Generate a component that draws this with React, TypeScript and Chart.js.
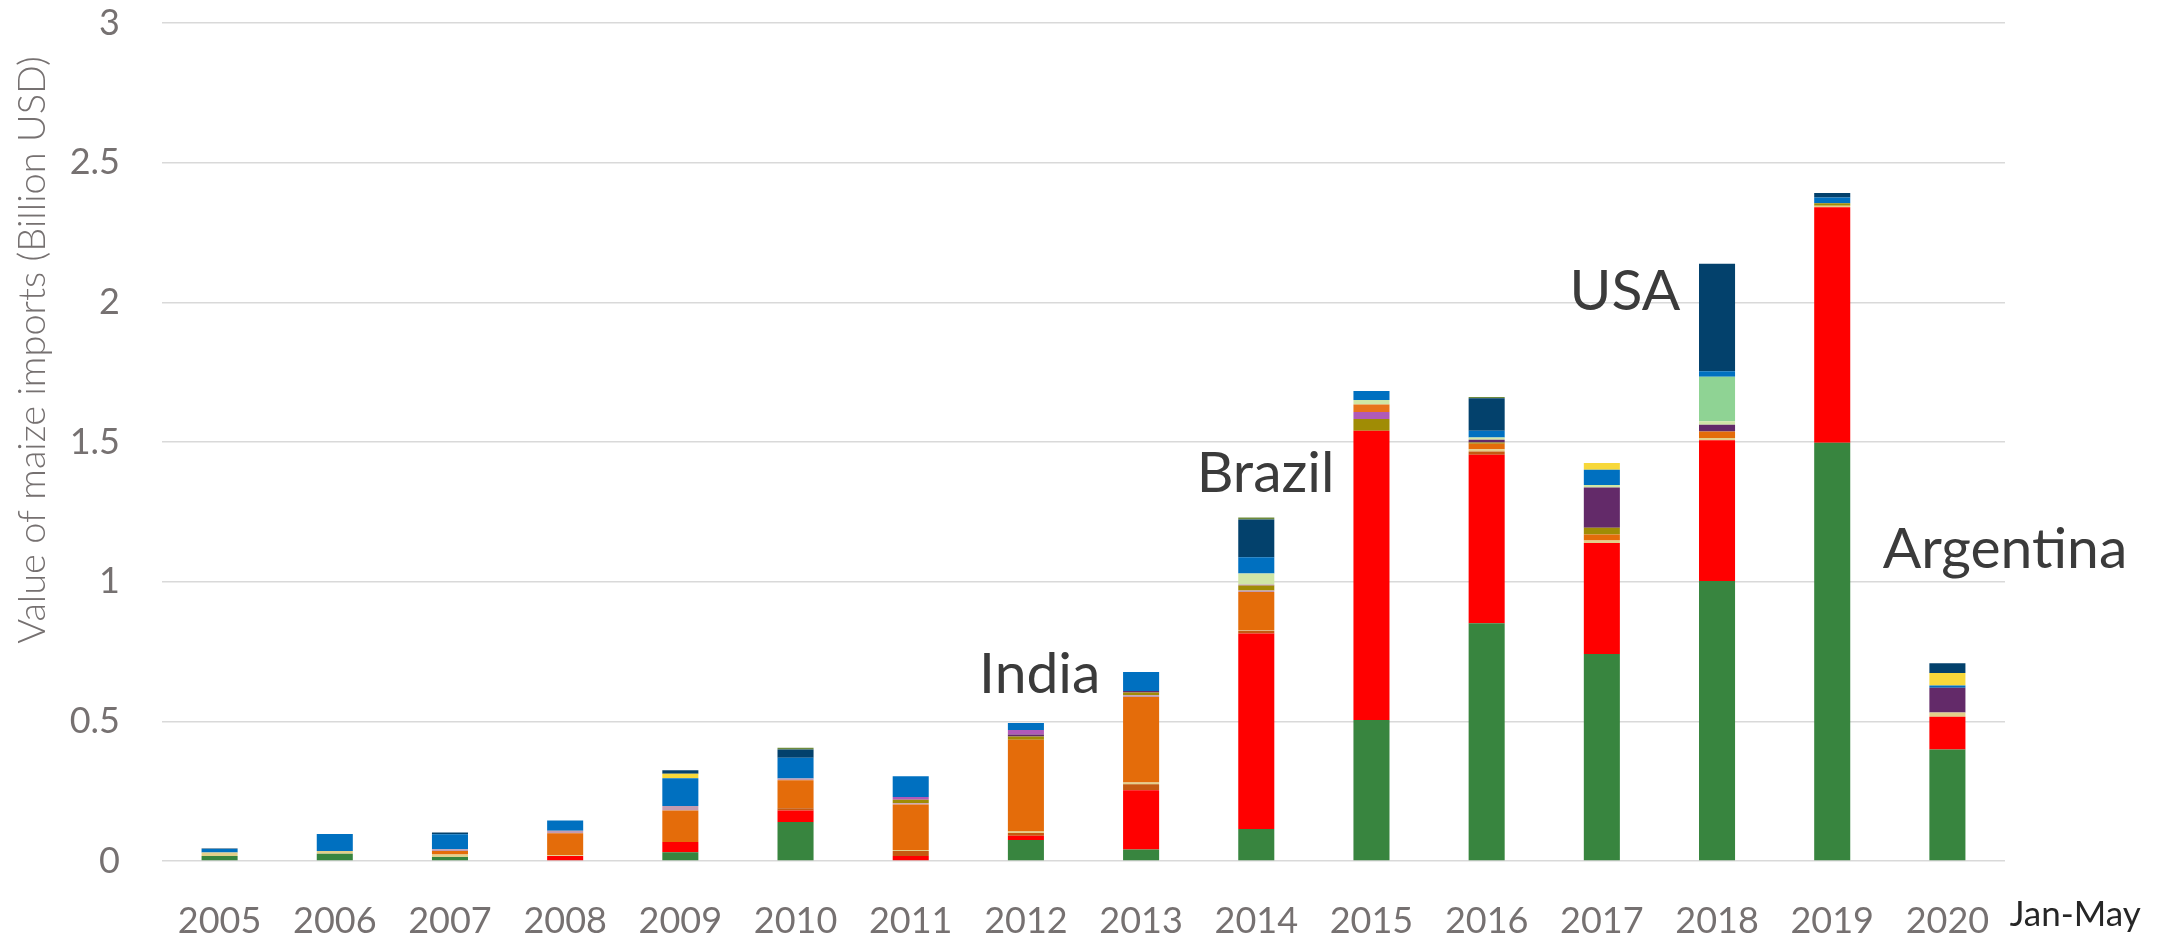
import React, { useEffect, useRef } from "react";
import { Chart, registerables } from "chart.js";

Chart.register(...registerables);

const years = ["2005", "2006", "2007", "2008", "2009", "2010", "2011", "2012", "2013", "2014", "2015", "2016", "2017", "2018", "2019", "2020"];

const argentina = [0.018, 0.026, 0.014, 0, 0.031, 0.14, 0, 0.075, 0.041, 0.115, 0.505, 0.851, 0.741, 1.002, 1.497, 0.399];
const brazil = [0, 0, 0, 0.018, 0.037, 0.041, 0.018, 0.015, 0.212, 0.699, 1.035, 0.603, 0.397, 0.504, 0.843, 0.117];
const otherBrown = [0, 0, 0, 0, 0, 0.008, 0.018, 0.01, 0.022, 0.01, 0, 0.012, 0, 0, 0, 0];
const otherTan = [0.012, 0.01, 0.009, 0.003, 0, 0, 0.003, 0.006, 0.006, 0.002, 0, 0.008, 0.009, 0.008, 0.006, 0.016];
const india = [0, 0, 0.013, 0.078, 0.113, 0.1, 0.163, 0.328, 0.306, 0.137, 0, 0.02, 0.022, 0.024, 0, 0];
const otherMauve = [0, 0, 0.006, 0.009, 0.016, 0.006, 0.005, 0, 0.006, 0.005, 0, 0, 0, 0, 0, 0];
const otherOlive = [0, 0, 0, 0, 0, 0, 0.012, 0.012, 0.01, 0.018, 0.042, 0.004, 0.024, 0, 0.009, 0];
const otherPurple = [0, 0, 0, 0, 0, 0, 0, 0.007, 0.006, 0, 0, 0.01, 0.144, 0.024, 0, 0.088];
const otherOrchid = [0, 0, 0, 0, 0, 0, 0.01, 0.016, 0, 0.003, 0.025, 0, 0, 0, 0, 0];
const otherOrange = [0, 0, 0, 0, 0, 0, 0, 0, 0, 0, 0.027, 0, 0, 0, 0, 0];
const otherLightGreen = [0, 0, 0, 0, 0, 0, 0, 0, 0, 0.04, 0.016, 0.008, 0.009, 0.012, 0, 0];
const otherMint = [0, 0, 0, 0, 0, 0, 0, 0, 0, 0, 0, 0, 0, 0.16, 0, 0];
const otherBlue = [0.013, 0.061, 0.054, 0.037, 0.099, 0.075, 0.074, 0.025, 0.068, 0.058, 0.033, 0.024, 0.055, 0.019, 0.02, 0.008];
const otherYellow = [0, 0, 0, 0, 0.016, 0, 0, 0, 0, 0, 0, 0, 0.024, 0, 0, 0.045];
const usa = [0.002, 0, 0.006, 0, 0.013, 0.029, 0, 0, 0, 0.136, 0, 0.117, 0, 0.385, 0.016, 0.035];
const otherTop = [0, 0, 0, 0, 0, 0.006, 0, 0, 0, 0.007, 0, 0.004, 0, 0, 0, 0];

const yTicks = [0, 0.5, 1, 1.5, 2, 2.5, 3];
const yTickLabels = ["0", "0.5", "1", "1.5", "2", "2.5", "3"];
const yTitle = "Value of maize imports (Billion USD)";
const periodNote = "Jan-May";

// label text, category position (fractional index), value
const annotationLabels = ["India", "Brazil", "USA", "Argentina"];
const annotationX = [7.12, 9.08, 12.2, 15.5];
const annotationY = [0.666, 1.386, 2.037, 1.113];

const series = [
  { label: "Argentina", data: argentina, color: "#38853F" },
  { label: "Brazil", data: brazil, color: "#FF0000" },
  { label: "Other 1", data: otherBrown, color: "#C55A11" },
  { label: "Other 2", data: otherTan, color: "#E2CF8A" },
  { label: "India", data: india, color: "#E46C0A" },
  { label: "Other 3", data: otherMauve, color: "#C49BB0" },
  { label: "Other 4", data: otherOlive, color: "#A08C05" },
  { label: "Other 5", data: otherPurple, color: "#632A69" },
  { label: "Other 6", data: otherOrchid, color: "#B05AB8" },
  { label: "Other 7", data: otherOrange, color: "#E8731B" },
  { label: "Other 8", data: otherLightGreen, color: "#CFE6A6" },
  { label: "Other 9", data: otherMint, color: "#8FD394" },
  { label: "Other 10", data: otherBlue, color: "#0070C0" },
  { label: "Other 11", data: otherYellow, color: "#F7D83A" },
  { label: "USA", data: usa, color: "#03416C" },
  { label: "Other 12", data: otherTop, color: "#6E8B3D" },
];

const TICK_FONT = { family: "Lato", size: 36 };
const TICK_COLOR = "#767171";

const overlayPlugin = {
  id: "overlayText",
  afterDraw(chart: any) {
    const { ctx, scales, chartArea } = chart;
    const xs = scales.x;
    const ys = scales.y;
    ctx.save();
    ctx.fillStyle = "#3B3B3B";
    ctx.font = "57px Lato";
    ctx.textAlign = "center";
    ctx.textBaseline = "middle";
    annotationLabels.forEach((t, i) => {
      ctx.fillText(t, xs.getPixelForValue(annotationX[i]), ys.getPixelForValue(annotationY[i]));
    });
    ctx.fillStyle = "#262626";
    ctx.font = "35px Lato";
    ctx.fillText(periodNote, xs.getPixelForValue(16.11), chartArea.bottom + 54);
    ctx.fillStyle = "#767171";
    ctx.font = "300 38px Lato";
    ctx.translate(33, 350);
    ctx.rotate(-Math.PI / 2);
    ctx.fillText(yTitle, 0, 0);
    ctx.restore();
  },
};

export default function App() {
  const ref = useRef<HTMLCanvasElement | null>(null);
  useEffect(() => {
    if (!ref.current) return;
    const chart = new Chart(ref.current, {
      type: "bar",
      data: {
        labels: years,
        datasets: series.map((s) => ({
          label: s.label,
          data: s.data,
          backgroundColor: s.color,
          borderWidth: 0,
          barPercentage: 0.313,
          categoryPercentage: 1,
        })),
      },
      options: {
        responsive: false,
        animation: false,
        devicePixelRatio: 1,
        layout: { padding: { left: 0, right: 168, top: 23, bottom: 0 } },
        plugins: { legend: { display: false }, tooltip: { enabled: false } },
        scales: {
          x: {
            stacked: true,
            grid: { display: false },
            border: { display: false },
            ticks: { font: TICK_FONT, color: TICK_COLOR, padding: 31, maxRotation: 0 },
            afterFit: (s: any) => {
              s.height = 73;
            },
          },
          y: {
            stacked: true,
            min: 0,
            max: 3,
            afterBuildTicks: (s: any) => {
              s.ticks = yTicks.map((v) => ({ value: v }));
            },
            grid: { color: "#D9D9D9", lineWidth: 1.5, drawTicks: false },
            border: { display: false },
            ticks: {
              font: TICK_FONT,
              color: TICK_COLOR,
              padding: 42,
              callback: (_v: any, i: number) => yTickLabels[i],
            },
            afterFit: (s: any) => {
              s.width = 162;
              s.paddingTop = 0;
              s.paddingBottom = 0;
            },
          },
        },
      },
      plugins: [overlayPlugin],
    });
    return () => chart.destroy();
  }, []);
  return (
    <div style={{ position: "absolute", left: 0, top: 0, width: 2173, height: 934, background: "#fff" }}>
      <canvas ref={ref} width={2173} height={934} />
    </div>
  );
}
